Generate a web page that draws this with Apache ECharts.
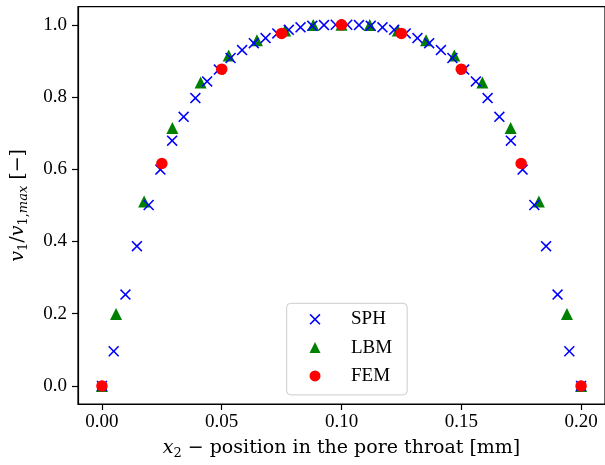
<!DOCTYPE html>
<html>
<head>
<meta charset="utf-8">
<script src="https://cdn.jsdelivr.net/npm/echarts@6/dist/echarts.min.js"></script>
<style>html,body{margin:0;padding:0;background:#fff;}#c{width:605px;height:465px;}</style>
</head>
<body>
<div id="c"></div>
<script>
const sphX = [0, 0.0049, 0.0098, 0.0146, 0.0195, 0.0244, 0.0293, 0.0341, 0.039, 0.0439, 0.0488, 0.0537, 0.0585, 0.0634, 0.0683, 0.0732, 0.078, 0.0829, 0.0878, 0.0927, 0.0976, 0.1024, 0.1073, 0.1122, 0.1171, 0.122, 0.1268, 0.1317, 0.1366, 0.1415, 0.1463, 0.1512, 0.1561, 0.161, 0.1659, 0.1707, 0.1756, 0.1805, 0.1854, 0.1902, 0.1951, 0.2];
const sphY = [0, 0.096, 0.253, 0.387, 0.501, 0.599, 0.679, 0.745, 0.797, 0.843, 0.876, 0.908, 0.930, 0.949, 0.963, 0.976, 0.986, 0.993, 0.997, 0.999, 1.0, 1.0, 0.999, 0.997, 0.993, 0.986, 0.976, 0.963, 0.949, 0.930, 0.908, 0.876, 0.843, 0.797, 0.745, 0.679, 0.599, 0.501, 0.387, 0.253, 0.096, 0];
const lbmX = [0, 0.0059, 0.0176, 0.0294, 0.0412, 0.0529, 0.0647, 0.0765, 0.0882, 0.1, 0.1118, 0.1235, 0.1353, 0.1471, 0.1588, 0.1706, 0.1824, 0.1941, 0.2];
const lbmY = [0, 0.199, 0.511, 0.714, 0.840, 0.915, 0.957, 0.984, 0.999, 1.0, 0.999, 0.984, 0.957, 0.915, 0.840, 0.714, 0.511, 0.199, 0];
const femX = [0, 0.025, 0.05, 0.075, 0.1, 0.125, 0.15, 0.175, 0.2];
const femY = [0, 0.616, 0.877, 0.976, 1.0, 0.976, 0.877, 0.616, 0];
const xTicks = [0, 0.05, 0.1, 0.15, 0.2];
const yTicks = [0, 0.2, 0.4, 0.6, 0.8, 1.0];
const seriesNames = ['SPH', 'LBM', 'FEM'];

const FONT = 'Liberation Serif';
const NFONT = 'DejaVu Serif';
const xPath = 'path://M0,10 L10,0 L50,40 L90,0 L100,10 L60,50 L100,90 L90,100 L50,60 L10,100 L0,90 L40,50 Z';
const zip = (a, b) => a.map((v, i) => [v, b[i]]);

const nameRich = {
  i: {fontFamily: NFONT, fontStyle: 'italic', fontSize: 19, lineHeight: 24, verticalAlign: 'middle'},
  s: {fontFamily: NFONT, fontSize: 13, lineHeight: 13, verticalAlign: 'bottom'},
  si: {fontFamily: NFONT, fontStyle: 'italic', fontSize: 13, lineHeight: 13, verticalAlign: 'bottom'},
  n: {fontFamily: NFONT, fontSize: 19, lineHeight: 24, verticalAlign: 'middle'}
};

const chart = echarts.init(document.getElementById('c'), null, {renderer: 'canvas'});
chart.setOption({
  animation: false,
  backgroundColor: '#fff',
  textStyle: {fontFamily: FONT, color: '#000'},
  grid: {left: 78, top: 6.7, width: 533.5, height: 398.3, show: true, borderColor: '#000', borderWidth: 1.2, containLabel: false},
  xAxis: {
    type: 'value', min: -0.01, max: 0.21,
    splitLine: {show: false},
    axisLine: {show: true, onZero: false, lineStyle: {color: '#000', width: 1.2}},
    axisTick: {show: true, length: 6, lineStyle: {color: '#000', width: 1.2}, customValues: xTicks},
    axisLabel: {customValues: xTicks, formatter: v => v.toFixed(2), fontFamily: FONT, fontSize: 19, color: '#000', margin: 9},
    name: '{i|x}{s|2}{n| − position in the pore throat [mm]}',
    nameLocation: 'middle', nameGap: 32,
    nameTextStyle: {fontFamily: NFONT, color: '#000', rich: nameRich}
  },
  yAxis: {
    type: 'value', min: -0.05, max: 1.05,
    splitLine: {show: false},
    axisLine: {show: true, onZero: false, lineStyle: {color: '#000', width: 1.2}},
    axisTick: {show: true, length: 6, lineStyle: {color: '#000', width: 1.2}, customValues: yTicks},
    axisLabel: {customValues: yTicks, formatter: v => v.toFixed(1), fontFamily: FONT, fontSize: 19, color: '#000', margin: 11},
    name: '{i|v}{s|1}{n|/}{i|v}{s|1,}{si|max}{n| [−]}',
    nameLocation: 'middle', nameGap: 48,
    nameTextStyle: {fontFamily: NFONT, color: '#000', rich: nameRich}
  },
  legend: {
    orient: 'vertical', left: 286.7, top: 303.3,
    padding: [5, 15, 8, 22.8],
    itemWidth: 11, itemHeight: 11, itemGap: 6.3,
    backgroundColor: 'rgba(255,255,255,0.8)', borderColor: '#cccccc', borderWidth: 1, borderRadius: 4,
    textStyle: {fontFamily: FONT, fontSize: 19, color: '#000', lineHeight: 22, padding: [0, 0, 0, 25.5]},
    data: [
      {name: seriesNames[0], icon: xPath},
      {name: seriesNames[1], icon: 'triangle'},
      {name: seriesNames[2], icon: 'circle'}
    ]
  },
  series: [
    {name: seriesNames[0], type: 'scatter', data: zip(sphX, sphY), symbol: xPath, symbolSize: 11, itemStyle: {color: '#0000ff', opacity: 1}, z: 3},
    {name: seriesNames[1], type: 'scatter', data: zip(lbmX, lbmY), symbol: 'triangle', symbolSize: 12, itemStyle: {color: '#008000', opacity: 1}, z: 2},
    {name: seriesNames[2], type: 'scatter', data: zip(femX, femY), symbol: 'circle', symbolSize: 11.5, itemStyle: {color: '#ff0000', opacity: 1}, z: 4}
  ]
});
</script>
</body>
</html>
